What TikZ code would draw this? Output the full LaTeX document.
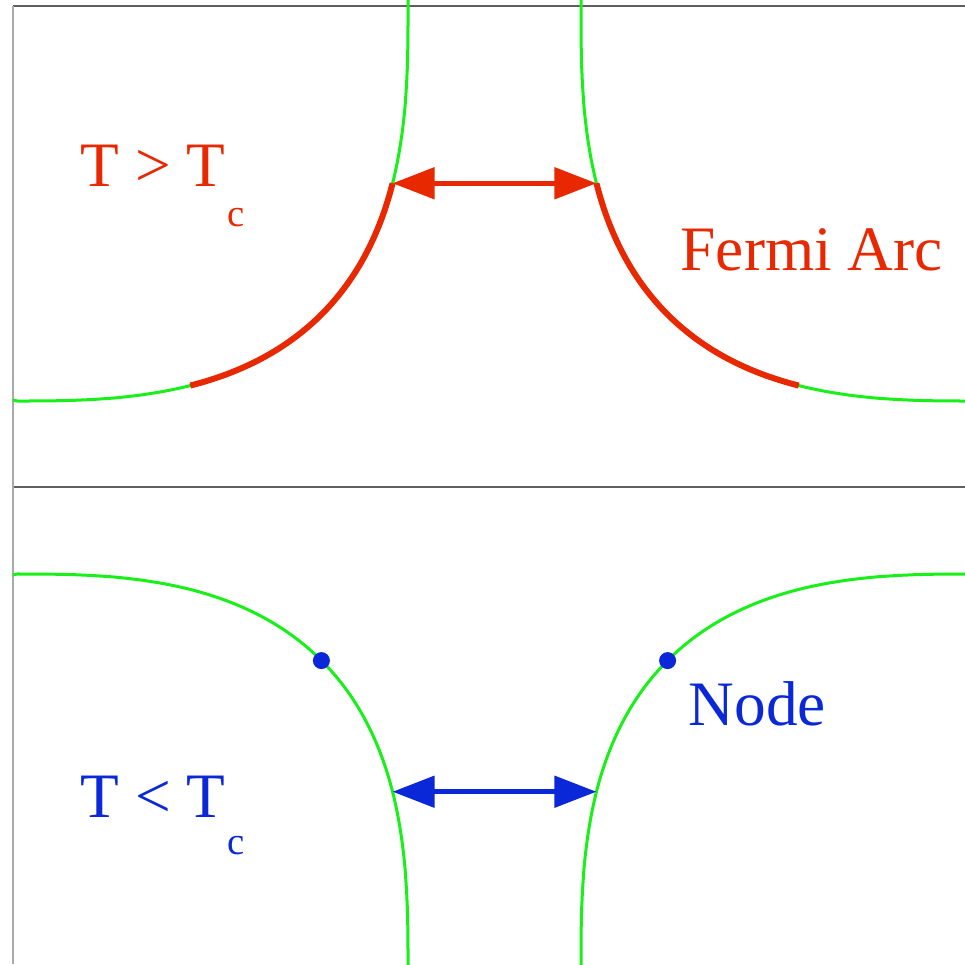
\documentclass[tikz,border=0pt]{standalone}
\usepackage{fontspec}
\setmainfont{Liberation Serif}
\usetikzlibrary{arrows.meta}
\definecolor{arcred}{RGB}{232,40,0}
\definecolor{gapblue}{RGB}{10,40,215}
\definecolor{fsgreen}{RGB}{25,240,25}
\definecolor{framegray}{RGB}{95,95,95}
\definecolor{sidegray}{RGB}{170,170,170}

\begin{document}
\begin{tikzpicture}[x=0.01cm,y=-0.01cm,
  fs/.style={fsgreen,line width=0.3mm},
  fermiarc/.style={arcred,line width=0.6mm},
  gaparrow/.style={line width=0.5mm,{Triangle[length=4.2mm,width=3.1mm]}-{Triangle[length=4.2mm,width=3.1mm]}},
  lbl/.style={anchor=base west,inner sep=0pt,font=\fontsize{18}{22}\selectfont},
  sublbl/.style={anchor=base west,inner sep=0pt,font=\fontsize{11}{13}\selectfont}]
\useasboundingbox (0,0) rectangle (965,964);
\clip (0,0) rectangle (965,964);
% frame
\draw[framegray,line width=0.2mm] (13,6) -- (965,6);
\draw[framegray,line width=0.2mm] (13,487) -- (965,487);
\draw[sidegray,line width=0.2mm] (13,6) -- (13,964);
% Fermi surface, four pieces
\foreach \sx/\ox in {1/0,-1/989}
\foreach \sy/\oy in {1/0,-1/975}
\draw[fs] ({\ox+\sx*408},{\oy+\sy*(-2)})
  -- plot[smooth,domain=0.1:89.9,samples=91]
     ({\ox+\sx*(13+395*(cos(\x))^0.714)},{\oy+\sy*(6+395*(sin(\x))^0.714)})
  -- ({\ox+\sx*13},{\oy+\sy*400});
%
\begin{scope}  % T > Tc
\foreach \sx/\ox in {1/0,-1/989}
\draw[fermiarc] plot[smooth,domain=19:71,samples=40]
  ({\ox+\sx*(13+395*(cos(\x))^0.714)},{6+395*(sin(\x))^0.714});
\coordinate (gapL) at ({13+395*(cos(19))^0.714},{6+395*(sin(19))^0.714});
\coordinate (gapR) at ({989-13-395*(cos(19))^0.714},{6+395*(sin(19))^0.714});
\draw[gaparrow,arcred] (gapL) -- (gapR);
\node[lbl,text=arcred] (hot) at (80,187) {T > T};
\node[sublbl,text=arcred] (hotc) at (227,226) {c};
\node[lbl,text=arcred] (fermi) at (680,271) {Fermi Arc};
\end{scope}
%
\begin{scope}  % T < Tc
\coordinate (gapL) at ({13+395*(cos(19))^0.714},{975-6-395*(sin(19))^0.714});
\coordinate (gapR) at ({989-13-395*(cos(19))^0.714},{975-6-395*(sin(19))^0.714});
\draw[gaparrow,gapblue] (gapL) -- (gapR);
\coordinate (nodeL) at (321.4,660.6);
\coordinate (nodeR) at (667.6,660.6);
\foreach \n in {L,R}
\fill[gapblue] (node\n) circle[radius=8.5];
\node[lbl,text=gapblue] (cold) at (80,817) {T < T};
\node[sublbl,text=gapblue] (coldc) at (227,854) {c};
\node[lbl,text=gapblue] (nodetxt) at (688,725) {Node};
\end{scope}
%
\end{tikzpicture}
\end{document}
